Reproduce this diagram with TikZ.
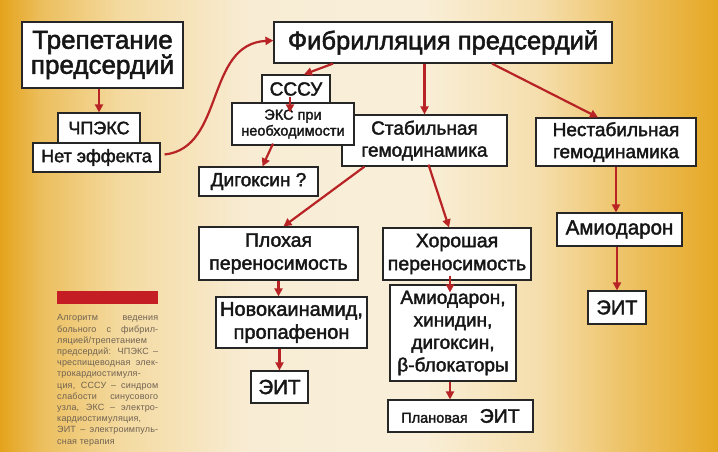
\documentclass[tikz,border=0pt]{standalone}
\usepackage{fontspec}
\setmainfont{Liberation Sans}
\newfontfamily\heavyfont{Liberation Sans}[RawFeature={embolden=2.0}]
\newfontfamily\capfont{Liberation Sans}[LetterSpace=2]
\newcommand\bxf[2]{\heavyfont\fontsize{#1}{#2}\selectfont}
\usetikzlibrary{arrows.meta}
\definecolor{arrowred}{RGB}{184,36,38}
\definecolor{barred}{RGB}{196,30,36}
\definecolor{captxt}{RGB}{112,98,82}
\definecolor{txt}{RGB}{22,22,22}
\definecolor{g0}{RGB}{228,163,28}
\definecolor{g1}{RGB}{236,190,92}
\definecolor{g2}{RGB}{244,218,160}
\definecolor{g3}{RGB}{248,236,212}
\definecolor{g4}{RGB}{249,239,217}
\definecolor{g5}{RGB}{245,222,172}
\definecolor{g6}{RGB}{238,196,106}
\definecolor{g7}{RGB}{229,168,36}
\hbadness=10000
\begin{document}
\begin{tikzpicture}[x=1pt,y=-1pt,
  box/.style={draw=black!85,line width=1.2pt,fill=white,inner sep=0pt,align=center,text=txt},
  arr/.style={draw=arrowred,line width=2.2pt,-{Triangle[length=8pt,width=8pt]}}]
\useasboundingbox (0,0) rectangle (718,451);
% background
\fill[left color=g0,right color=g1] (0,0) rectangle (40.5,451);
\fill[left color=g1,right color=g2] (40,0) rectangle (120.5,451);
\fill[left color=g2,right color=g3] (120,0) rectangle (250.5,451);
\fill[left color=g3,right color=g4] (250,0) rectangle (420.5,451);
\fill[left color=g4,right color=g5] (420,0) rectangle (540.5,451);
\fill[left color=g5,right color=g6] (540,0) rectangle (620.5,451);
\fill[left color=g6,right color=g7] (620,0) rectangle (718,451);

% caption
\fill[barred] (57,291) rectangle (158,304);
\node[anchor=north west,text width=101pt,align=justify,inner sep=0pt,text=captxt,
  font=\capfont\fontsize{9}{11.2}\selectfont] (cap) at (57,314.5)
{Алгоритм ведения\linebreak
больного с фибрил-\linebreak
ляцией/трепетанием\linebreak
предсердий: ЧПЭКС –\linebreak
чреспищеводная элек-\linebreak
трокардиостимуля-\linebreak
ция, СССУ – синдром\linebreak
слабости синусового\linebreak
узла, ЭКС – электро-\linebreak
кардиостимуляция,\linebreak
ЭИТ – электроимпуль-\linebreak
сная терапия};

% boxes
\node[box,minimum width=161pt,minimum height=66pt,font=\bxf{26}{25}] (trep) at (102.5,55) {Трепетание\\предсердий};
\node[box,minimum width=338pt,minimum height=41pt,font=\bxf{25.5}{26}] (fib) at (443,42.5) {Фибрилляция предсердий};
\node[box,minimum width=68pt,minimum height=28pt,font=\bxf{19}{20}] (sssu) at (296,89) {СССУ};
\node[box,minimum width=165pt,minimum height=51pt,font=\bxf{19}{22}] (stab) at (424.5,140.5) {Стабильная\\гемодинамика};
\node[box,minimum width=122pt,minimum height=42pt,font=\bxf{14.5}{16}] (eks) at (293,124) {ЭКС при\\необходимости};
\node[box,minimum width=160pt,minimum height=48pt,font=\bxf{19}{22}] (nestab) at (616,142) {Нестабильная\\гемодинамика};
\node[box,minimum width=82pt,minimum height=30pt,font=\bxf{18}{20}] (chpeks) at (99,128) {ЧПЭКС};
\node[box,minimum width=127pt,minimum height=29pt,font=\bxf{18}{20}] (neteff) at (96.5,157.5) {Нет эффекта};
\node[box,minimum width=119pt,minimum height=29pt,font=\bxf{19}{20}] (digox) at (258.5,181.5) {Дигоксин ?};
\node[box,minimum width=159pt,minimum height=53pt,font=\bxf{19.5}{23}] (plox) at (278.5,253.5) {Плохая\\переносимость};
\node[box,minimum width=148pt,minimum height=52pt,font=\bxf{19.5}{23}] (xor) at (457,254) {Хорошая\\переносимость};
\node[box,minimum width=125pt,minimum height=33pt,font=\bxf{20.5}{22}] (amio) at (619.5,229.5) {Амиодарон};
\node[box,minimum width=151pt,minimum height=51pt,font=\bxf{20}{23}] (novo) at (291.5,322.5) {Новокаинамид,\\пропафенон};
\node[box,minimum width=126pt,minimum height=96pt,font=\bxf{19}{22.5}] (amiolist) at (453,333) {Амиодарон,\\хинидин,\\дигоксин,\\β-блокаторы};
\node[box,minimum width=58pt,minimum height=33pt,font=\bxf{20}{22}] (eitR) at (617,307.5) {ЭИТ};
\node[box,minimum width=57pt,minimum height=32pt,font=\bxf{20.5}{22}] (eitL) at (279.5,387) {ЭИТ};
\node[box,minimum width=145pt,minimum height=32pt] (plan) at (460.5,416) {{\bxf{14.5}{16}Плановая}\hspace{12pt}{\bxf{19.5}{20}ЭИТ}};

% arrows
\draw[arr] (chpeks.north |- trep.south) -- (chpeks.north);
\draw[arr] ([xshift=4pt,yshift=3pt]neteff.east) .. controls (225,148) and (205,44) .. ([yshift=2pt]fib.west);
\draw[arr] ([xshift=-110pt]fib.south) -- ([xshift=8pt]sssu.north);
\draw[arr] ([xshift=-6pt,yshift=7pt]sssu.south) -- ([xshift=-3pt,yshift=-10pt]eks.north);
\draw[arr] ([xshift=-20pt,yshift=2pt]eks.south) -- ([xshift=4pt]digox.north);
\draw[arr] (stab.north |- fib.south) -- (stab.north);
\draw[arr] ([xshift=49pt]fib.south) -- ([xshift=-18pt]nestab.north);
\draw[arr] (nestab.south) -- (nestab.south |- amio.north);
\draw[arr] (eitR.north |- amio.south) -- (eitR.north);
\draw[arr] ([xshift=-60pt]stab.south) -- ([xshift=5pt]plox.north);
\draw[arr] ([xshift=4pt,yshift=2pt]stab.south) -- ([xshift=-8pt]xor.north);
\draw[arr] (plox.south) -- (plox.south |- novo.north);
\draw[arr] (eitL.north |- novo.south) -- (eitL.north);
\draw[arr] ([xshift=-7pt,yshift=5pt]xor.south) -- ([xshift=-3pt,yshift=-8pt]amiolist.north);
\draw[arr] ([xshift=-3pt]amiolist.south) -- ([xshift=-10.5pt]plan.north);
\end{tikzpicture}
\end{document}
